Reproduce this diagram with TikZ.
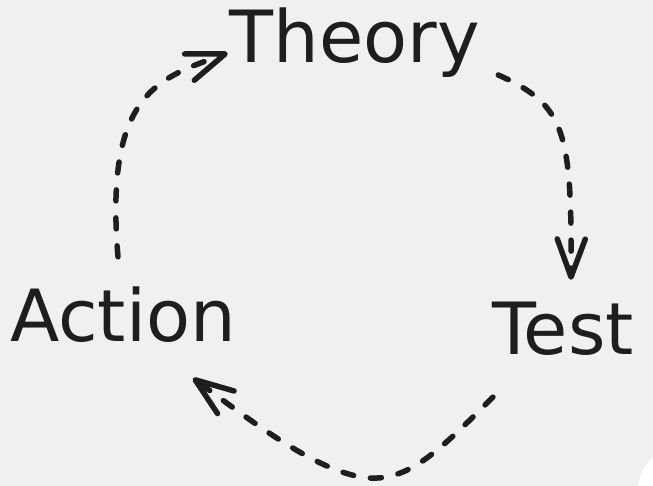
\documentclass[tikz,border=0pt]{standalone}
\usepackage{fontspec}
\setmainfont{DejaVu Sans}
\usetikzlibrary{arrows.meta,calc}
\definecolor{paper}{HTML}{F0F0F0}
\definecolor{ink}{HTML}{1E1E1E}
\tikzset{
  stage/.style={anchor=base, inner sep=0pt, text height=50pt, text depth=14pt,
    text=ink, font=\fontsize{72}{84}\selectfont},
  flowline/.style={draw=ink, line width=5.5pt, line cap=round,
    dash pattern=on 11pt off 17pt,
    -{Straight Barb[length=38pt,width=28pt,line cap=round,round]}}
}
\begin{document}
\begin{tikzpicture}[x=1pt,y=1pt]
  % Background
  \fill[paper] (0,0) rectangle (653,486);
  \useasboundingbox (0,0) rectangle (653,486);
  \begin{scope}
    \clip (0,0) rectangle (653,486);
    \fill[white] (700,-14) circle (64);
  \end{scope}

  % Stages of the cycle
  \node[stage] (theory) at (355,423) {Theory};
  \node[stage] (action) at (123,144) {Action};
  \node[stage] (test) at (563,131) {Test};

  % Action -> Theory
  \draw[flowline] ($(action.north)+(-5,35)$)
    .. controls (104,395) and (160,408) .. ($(theory.west)+(-2,-8)$);
  % Theory -> Test
  \draw[flowline] ($(theory.east)+(18,-30)$)
    .. controls (565,381) and (572,356) .. ($(test.north)+(8,25)$);
  % Test -> Action
  \draw[flowline] ($(test.south west)+(1,-28)$)
    .. controls (440,36) and (410,6) .. (370,8)
    .. controls (320,11) and (250,66) .. ($(action.south east)+(-43,-22)$);
\end{tikzpicture}
\end{document}
